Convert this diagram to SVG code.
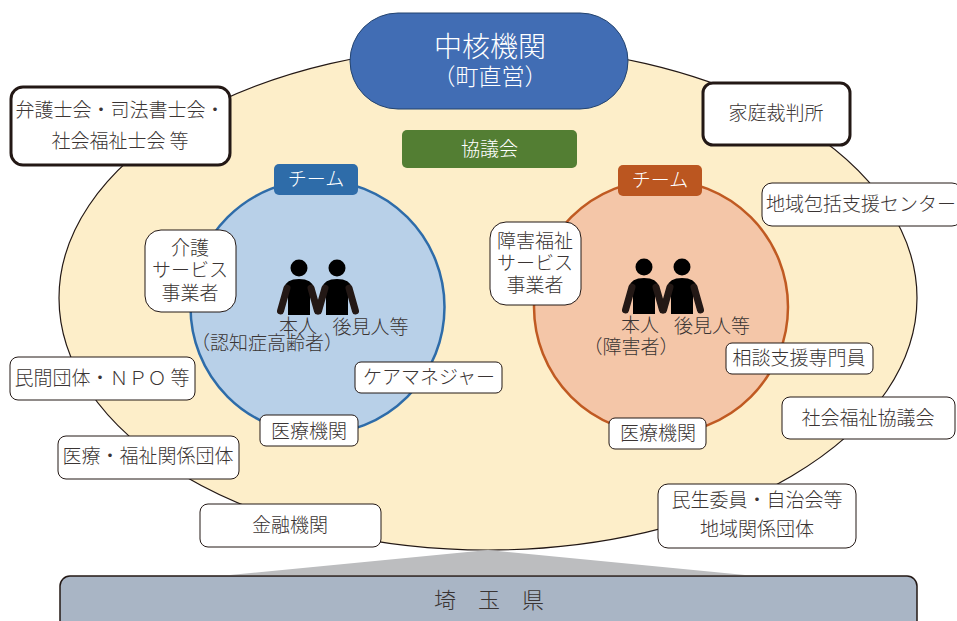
<svg xmlns="http://www.w3.org/2000/svg" width="957" height="621" viewBox="0 0 957 621">
<style>
text{font-family:"Noto Sans CJK JP","Noto Sans",sans-serif;font-size:19px;fill:#3a3433;text-anchor:middle;font-weight:300}
.b{fill:#fff;stroke:#231815;stroke-width:1}
.t{fill:#fff;stroke:#231815;stroke-width:3}
.arm{fill:none;stroke:#231815;stroke-width:7;stroke-linecap:round}
</style>
<defs>
<g id="person"><circle cx="0" cy="0" r="8.500"/><path d="M-11 47V20H-15Q-13 11 0 11Q13 11 15 20H11V47Z"/><path class="arm" d="M-12 20L-18.500 43M12 20L18.500 43"/></g>
</defs>
<g id="background"><ellipse cx="488" cy="298" rx="429" ry="252" fill="#fdeec9" stroke="#231815" stroke-width="1.200"/>
<path d="M230 575L488 550L745 575Z" fill="#bcbdbf"/></g>
<g id="connectors"></g>
<g id="n-core"><rect x="350" y="13" width="278" height="96" rx="48" fill="#416db4" stroke="#23436f"/><text x="490" y="57" style="font-size:28px;fill:#fff">中核機関</text><text x="490" y="85" style="font-size:23px;fill:#fff">（町直営）</text></g>
<g id="n-council"><rect x="402" y="130" width="175" height="38" rx="5" fill="#537e33"/><text x="489.500" y="156" style="fill:#fff">協議会</text></g>
<g id="n-lawyers"><rect class="t" x="11" y="87" width="219" height="78" rx="12"/><text x="120" y="117">弁護士会・司法書士会・</text><text x="120" y="148">社会福祉士会 等</text></g>
<g id="n-court"><rect class="t" x="703" y="83" width="147" height="62" rx="10"/><text x="776" y="120">家庭裁判所</text></g>
<g id="n-circle-l"><circle cx="317.500" cy="307" r="127" fill="#b8d0e8" stroke="#2e6ca9" stroke-width="2.500"/></g>
<g id="n-circle-r"><circle cx="661" cy="307" r="127" fill="#f4c6a8" stroke="#c05a22" stroke-width="2.500"/></g>
<g id="n-team-l"><rect x="274" y="164" width="84" height="31" rx="5" fill="#2e6ca9"/><text x="316" y="186" style="fill:#fff">チーム</text></g>
<g id="n-team-r"><rect x="618" y="165" width="84" height="31" rx="5" fill="#bb5620"/><text x="660" y="187" style="fill:#fff">チーム</text></g>
<g id="n-persons-l"><use href="#person" x="299" y="268"/><use href="#person" x="337" y="268"/><text x="298" y="333">本人</text><text x="370.500" y="334">後見人等</text><text x="267" y="350">（認知症高齢者）</text></g>
<g id="n-persons-r"><use href="#person" x="644" y="267"/><use href="#person" x="682" y="267"/><text x="640" y="332">本人</text><text x="712" y="333">後見人等</text><text x="631" y="354">（障害者）</text></g>
<g id="n-care"><rect class="b" x="145" y="230" width="91" height="82" rx="16"/><text x="190" y="255">介護</text><text x="190" y="277">サービス</text><text x="190" y="300">事業者</text></g>
<g id="n-dis"><rect class="b" x="490" y="222" width="91" height="83" rx="16"/><text x="535" y="248">障害福祉</text><text x="535" y="270">サービス</text><text x="535" y="292">事業者</text></g>
<g id="n-cm"><rect class="b" x="355" y="362" width="147" height="31" rx="6"/><text x="429" y="384">ケアマネジャー</text></g>
<g id="n-med-l"><rect class="b" x="260" y="415" width="98" height="31" rx="6"/><text x="309" y="438">医療機関</text></g>
<g id="n-med-r"><rect class="b" x="609" y="418" width="97" height="31" rx="6"/><text x="658" y="440">医療機関</text></g>
<g id="n-sodan"><rect class="b" x="726" y="343" width="147" height="31" rx="6"/><text x="799" y="365">相談支援専門員</text></g>
<g id="n-center"><rect class="b" x="762" y="183" width="200" height="43" rx="10"/><text x="861" y="211">地域包括支援センター</text></g>
<g id="n-shakyo"><rect class="b" x="782" y="397" width="173" height="42" rx="8"/><text x="868" y="425">社会福祉協議会</text></g>
<g id="n-npo"><rect class="b" x="10" y="357" width="185" height="43" rx="8"/><text x="102" y="385">民間団体・ＮＰＯ 等</text></g>
<g id="n-iryo"><rect class="b" x="58" y="436" width="181" height="43" rx="8"/><text x="148" y="463">医療・福祉関係団体</text></g>
<g id="n-kin"><rect class="b" x="200" y="504" width="181" height="43" rx="8"/><text x="290" y="532">金融機関</text></g>
<g id="n-minsei"><rect class="b" x="658" y="484" width="198" height="64" rx="10"/><text x="757" y="507">民生委員・自治会等</text><text x="757" y="536">地域関係団体</text></g>
<g id="n-pref"><rect x="60" y="576" width="857" height="60" rx="10" fill="#a9b5c5" stroke="#231815" stroke-width="1.500"/><text x="489" y="608" style="font-size:22px">埼　玉　県</text></g>
</svg>
